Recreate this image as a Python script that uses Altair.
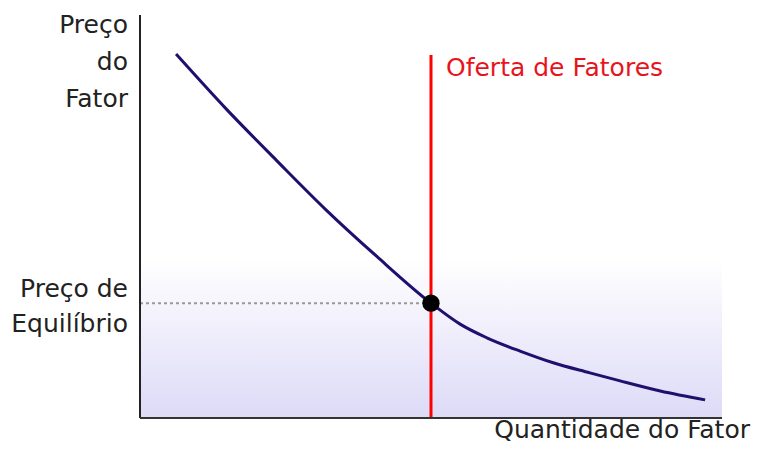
import altair as alt
import pandas as pd

# Demand curve (factor quantity vs factor price)
quantity = [6.2, 14.8, 23.4, 32.0, 40.6, 50.0, 55.0, 59.6, 65.3, 71.0, 77.3, 82.5, 89.4, 97.1]
price = [90.3, 76.7, 64.0, 51.6, 40.2, 28.5, 23.3, 19.9, 16.6, 13.7, 11.2, 9.2, 6.7, 4.5]

# Equilibrium and supply
eq_quantity = [50.0]
eq_price = [28.5]
supply_top = [90.1]
shade_top = [39.5]
axis_max = [100.0]

y_title = "Preço\ndo\nFator"
x_title = "Quantidade do Fator"
eq_label = "Preço de\nEquilíbrio"
supply_label = "Oferta de Fatores"

FONT = "DejaVu Sans"
FS = 25

xs = alt.Scale(domain=[0, 100], nice=False, zero=False)
ys = alt.Scale(domain=[0, 100], nice=False, zero=False)

curve_df = pd.DataFrame({"q": quantity, "p": price})
eq_df = pd.DataFrame({"q": eq_quantity, "p": eq_price, "top": supply_top,
                      "zero": [0.0], "shade": shade_top, "max": axis_max})

base = alt.Chart(eq_df)

shade = base.mark_rect(
    fill=alt.Gradient(gradient="linear", x1=0, y1=0, x2=0, y2=1,
                      stops=[alt.GradientStop(color="#ffffff", offset=0),
                             alt.GradientStop(color="#dddaf7", offset=1)])
).encode(
    x=alt.X("zero:Q", scale=xs, axis=None), x2="max:Q",
    y=alt.Y("zero:Q", scale=ys, axis=None), y2="shade:Q",
)

yaxis = base.mark_rule(color="#222222", strokeWidth=2).encode(
    x=alt.X("zero:Q", scale=xs, axis=None),
    y=alt.Y("zero:Q", scale=ys, axis=None), y2="max:Q")
xaxis = base.mark_rule(color="#333333", strokeWidth=2).encode(
    x=alt.X("zero:Q", scale=xs, axis=None), x2="max:Q",
    y=alt.Y("zero:Q", scale=ys, axis=None))

dotted = base.mark_rule(color="#999999", strokeWidth=2, strokeDash=[3, 3]).encode(
    x=alt.X("zero:Q", scale=xs, axis=None), x2="q:Q",
    y=alt.Y("p:Q", scale=ys, axis=None))

supply = base.mark_rule(color="#ff0000", strokeWidth=3).encode(
    x=alt.X("q:Q", scale=xs, axis=None),
    y=alt.Y("zero:Q", scale=ys, axis=None), y2="top:Q")

curve = alt.Chart(curve_df).mark_line(
    color="#1f0f6e", strokeWidth=3, interpolate="monotone"
).encode(
    x=alt.X("q:Q", scale=xs, axis=None),
    y=alt.Y("p:Q", scale=ys, axis=None))

dot = base.mark_point(filled=True, color="#000000", size=300, opacity=1).encode(
    x=alt.X("q:Q", scale=xs, axis=None),
    y=alt.Y("p:Q", scale=ys, axis=None))

ytitle = base.mark_text(
    text=y_title.split("\n"), font=FONT, fontSize=FS, color="#222222",
    align="right", baseline="middle", lineHeight=37, dx=-12, dy=10
).encode(x=alt.X("zero:Q", scale=xs, axis=None), y=alt.Y("max:Q", scale=ys, axis=None))

eqtext = base.mark_text(
    text=eq_label.split("\n"), font=FONT, fontSize=FS, color="#222222",
    align="right", baseline="middle", lineHeight=35, dx=-12, dy=-14
).encode(x=alt.X("zero:Q", scale=xs, axis=None), y=alt.Y("p:Q", scale=ys, axis=None))

suptext = base.mark_text(
    text=supply_label, font=FONT, fontSize=FS, color="#e8141c",
    align="left", baseline="middle", dx=15, dy=13
).encode(x=alt.X("q:Q", scale=xs, axis=None), y=alt.Y("top:Q", scale=ys, axis=None))

xtitle = base.mark_text(
    text=x_title, font=FONT, fontSize=FS, color="#222222",
    align="right", baseline="middle", dx=28, dy=12
).encode(x=alt.X("max:Q", scale=xs, axis=None), y=alt.Y("zero:Q", scale=ys, axis=None))

chart = alt.layer(
    shade, dotted, curve, supply, dot, yaxis, xaxis,
    ytitle, eqtext, suptext, xtitle
).properties(
    width=582, height=403,
    autosize=alt.AutoSizeParams(type="none"),
    padding={"left": 132, "top": 7, "right": 29, "bottom": 27},
).configure_view(stroke=None)

chart.save("out.html", embed_options={"renderer": "svg", "actions": False})
